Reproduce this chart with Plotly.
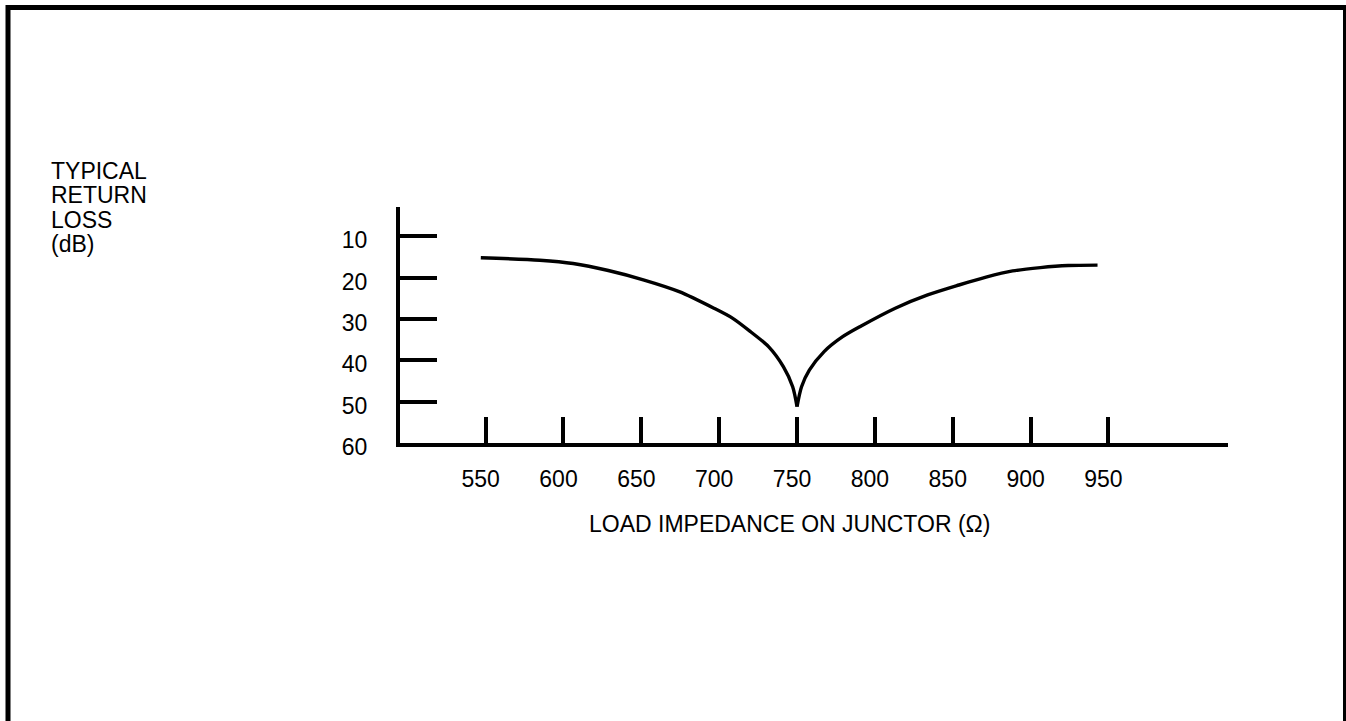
import plotly.graph_objects as go

# ---- data ----
impedance_ticks = [550, 600, 650, 700, 750, 800, 850, 900, 950]
loss_ticks = [10, 20, 30, 40, 50, 60]

# curve below 750 ohm (descending branch)
left_ohm = [546.9, 584.8, 606.2, 628.8, 651.8, 674.3, 696.6, 708.5, 720.2, 731.7, 741.3, 747.2, 750.0]
left_db = [15.2, 15.8, 16.6, 18.3, 20.6, 23.4, 27.4, 29.8, 33.1, 36.7, 41.6, 46.4, 51.2]

# curve above 750 ohm (ascending branch)
right_ohm = [750.0, 752.9, 757.9, 767.4, 779.3, 791.2, 813.1, 833.9, 854.0, 871.4, 888.5, 906.3, 924.2, 943.0]
right_db = [51.2, 46.4, 42.4, 37.9, 34.3, 31.7, 27.4, 24.2, 21.8, 19.9, 18.4, 17.6, 17.1, 17.0]

x_title = "LOAD IMPEDANCE ON JUNCTOR (\u03a9)"
y_title_lines = ["TYPICAL", "RETURN", "LOSS", "(dB)"]

FONT = "Liberation Sans, Arial, Helvetica, sans-serif"
FS = 23

# plot-area geometry (pixels)
W, H = 1346, 721
L, R, T, B = 400, 1228, 207, 443
PW, PH = R - L, B - T


def px(x):
    return (x - L) / PW


def py(y):
    return (B - y) / PH


fig = go.Figure()
for xs, ys in ((left_ohm, left_db), (right_ohm, right_db)):
    fig.add_trace(go.Scatter(
        x=xs, y=ys, mode="lines",
        line=dict(color="black", width=3.4, shape="spline", smoothing=0.8),
        hoverinfo="skip", showlegend=False,
    ))

fig.update_layout(
    width=W, height=H,
    margin=dict(l=L, r=W - R, t=T, b=H - B, pad=0),
    paper_bgcolor="white", plot_bgcolor="white",
    font=dict(family=FONT, size=FS, color="black"),
    showlegend=False,
    xaxis=dict(
        range=[495.0, 1026.8],
        tickmode="array", tickvals=impedance_ticks,
        ticktext=[str(v) for v in impedance_ticks],
        ticks="inside", ticklen=26, tickwidth=4, tickcolor="black",
        showline=True, linewidth=4, linecolor="black",
        showgrid=False, zeroline=False,
        ticklabelstandoff=12, ticklabelshift=-5,
        tickfont=dict(family=FONT, size=FS, color="black"),
    ),
    yaxis=dict(
        range=[60, 2.94],
        tickmode="array", tickvals=loss_ticks,
        ticktext=[str(v) for v in loss_ticks],
        ticks="inside", ticklen=37, tickwidth=4, tickcolor="black",
        showline=True, linewidth=4, linecolor="black",
        showgrid=False, zeroline=False,
        ticklabelstandoff=24, ticklabelshift=-4,
        tickfont=dict(family=FONT, size=FS, color="black"),
    ),
)

# frame around the drawing (left, top and right sides)
fig.add_shape(
    type="path", xref="paper", yref="paper",
    path=f"M {px(8)} {py(760)} L {px(8)} {py(7.5)} L {px(1345.5)} {py(7.5)} L {px(1345.5)} {py(760)}",
    line=dict(color="black", width=5),
)

# x-axis title
fig.add_annotation(
    text=x_title, xref="paper", yref="paper",
    x=px(789), y=py(524), xanchor="center", yanchor="middle",
    showarrow=False, font=dict(family=FONT, size=FS, color="black"),
)

# y-axis title, one line per annotation
for line, yc in zip(y_title_lines, [170.5, 195.0, 219.5, 244.0]):
    fig.add_annotation(
        text=line, xref="paper", yref="paper",
        x=px(49), y=py(yc), xanchor="left", yanchor="middle",
        showarrow=False, font=dict(family=FONT, size=FS, color="black"),
    )

fig.write_html(
    "out.html",
    config={"displayModeBar": False},
    post_script="document.body.style.margin='0';document.body.style.overflow='hidden';",
)
